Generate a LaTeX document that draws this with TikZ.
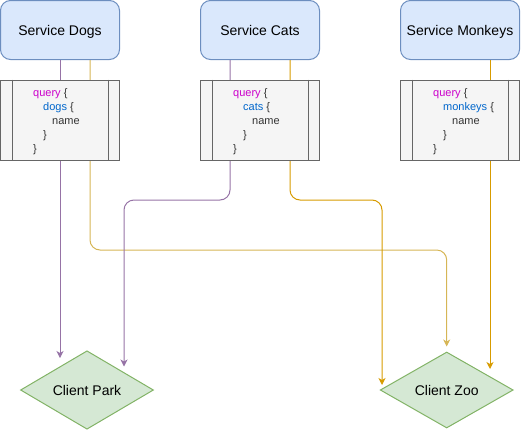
\documentclass[tikz,border=0pt]{standalone}
\usepackage{fontspec}
\setmainfont{Liberation Sans}
\usetikzlibrary{arrows.meta,shapes.geometric}
\definecolor{svcfill}{HTML}{DAE8FC}
\definecolor{svcline}{HTML}{6C8EBF}
\definecolor{qfill}{HTML}{F5F5F5}
\definecolor{qline}{HTML}{666666}
\definecolor{cfill}{HTML}{D5E8D4}
\definecolor{cline}{HTML}{82B366}
\definecolor{purp}{HTML}{9673A6}
\definecolor{yell}{HTML}{D6B656}
\definecolor{oran}{HTML}{D79B00}
\definecolor{qmag}{HTML}{CC00CC}
\definecolor{qblue}{HTML}{0066CC}
\definecolor{qgray}{HTML}{333333}
\newcommand\myquery[3]{%
  \node[qbox] (#1) at (#2+60,120) {};
  \draw[qline, line width=1pt] ([xshift=12pt]#1.north west) -- ([xshift=12pt]#1.south west);
  \draw[qline, line width=1pt] ([xshift=-12pt]#1.north east) -- ([xshift=-12pt]#1.south east);
  \node[qt] (#1a) at (#2+33,96) {\textcolor{qmag}{query} \{};
  \node[qt] (#1b) at (#2+43,110) {\textcolor{qblue}{#3} \{};
  \node[qt] (#1c) at (#2+52,124) {name};
  \node[qt] (#1d) at (#2+43,138) {\}};
  \node[qt] (#1e) at (#2+33,152) {\}};
}
\begin{document}
\begin{tikzpicture}[x=1pt,y=-1pt,
  svc/.style={draw=svcline, fill=svcfill, rounded corners=10pt, minimum width=119pt,
    minimum height=59pt, inner sep=0pt, line width=1pt, font=\fontsize{14}{16}\selectfont,
    text height=10pt, text depth=0pt},
  qbox/.style={draw=qline, fill=qfill, minimum width=119pt, minimum height=80pt,
    inner sep=0pt, line width=1pt},
  qt/.style={anchor=base west, inner sep=0pt, text=qgray, font=\fontsize{11}{13}\selectfont},
  client/.style={diamond, draw=cline, fill=cfill, minimum width=133pt, minimum height=76pt,
    inner sep=0pt, line width=1pt, font=\fontsize{14}{16}\selectfont,
    text height=10pt, text depth=0pt},
  edge/.style={line width=1pt, rounded corners=10pt,
    -{Stealth[length=7pt,width=7pt,inset=2pt]}}]
\useasboundingbox (0,0) rectangle (521,431);
% services
\node[svc] (sd) at (60,30) {Service Dogs};
\node[svc] (sc) at (260,30) {Service Cats};
\node[svc] (sm) at (460,30) {Service Monkeys};
% clients
\node[client] (park) at (87,390) {Client Park};
\node[client] (zoo) at (446.7,390) {Client Zoo};
% arrow end points and bend levels
\coordinate (e1) at (60,358);
\coordinate (e2) at (446.7,346.5);
\coordinate (e3) at (124,366.5);
\coordinate (e4) at (382,385);
\coordinate (e5) at (490,369);
\coordinate (lowbend) at (0,250);
\coordinate (highbend) at (0,200);
\coordinate (s1) at ([xshift=30pt]sd.south);
\coordinate (s2) at ([xshift=-30pt]sc.south);
\coordinate (s3) at ([xshift=30pt]sc.south);
\coordinate (s4) at ([xshift=30pt]sm.south);
% connectors
\draw[edge, draw=purp] (sd.south) -- (e1);
\draw[edge, draw=yell] (s1) -- (s1 |- lowbend) -| (e2);
\draw[edge, draw=purp] (s2) -- (s2 |- highbend) -| (e3);
\draw[edge, draw=oran] (s3) -- (s3 |- highbend) -| (e4);
\draw[edge, draw=oran] (s4) -- (e5);
% query boxes
\myquery{qd}{0}{dogs}
\myquery{qc}{200}{cats}
\myquery{qm}{400}{monkeys}
\end{tikzpicture}
\end{document}
